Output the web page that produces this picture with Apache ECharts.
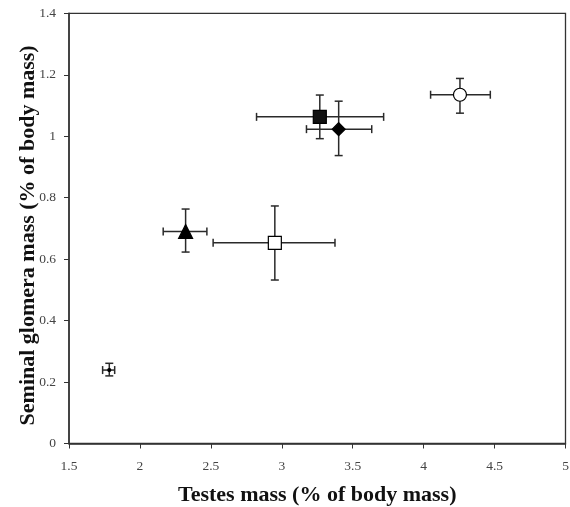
<!DOCTYPE html>
<html>
<head>
<meta charset="utf-8">
<script src="https://cdn.jsdelivr.net/npm/echarts@6/dist/echarts.min.js"></script>
<style>
  html, body { margin: 0; padding: 0; background: #fff; }
</style>
</head>
<body>
<div id="main" style="width:570px;height:507px;"></div>
<script>
// point order: small dot, triangle, open square, filled square, diamond, open circle
var symbols = ['circle', 'triangle', 'rect', 'rect', 'diamond', 'circle'];
var fills = ['#000', '#000', '#fff', '#111', '#000', '#fff'];
var sizes = [3, 14, 13, 13, 13, 13];
var testes = [1.784, 2.322, 2.951, 3.268, 3.401, 4.256];
var glomera = [0.239, 0.690, 0.653, 1.063, 1.023, 1.135];
var testesLo = [1.737, 2.164, 2.516, 2.822, 3.174, 4.049];
var testesHi = [1.822, 2.472, 3.375, 3.718, 3.634, 4.470];
var glomeraLo = [0.220, 0.623, 0.532, 0.992, 0.937, 1.075];
var glomeraHi = [0.261, 0.763, 0.773, 1.134, 1.114, 1.188];

var myChart = echarts.init(document.getElementById('main'));

var errData = testes.map(function (x, i) {
  return [x, glomera[i], testesLo[i], testesHi[i], glomeraLo[i], glomeraHi[i]];
});

var lineStyle = { stroke: '#2a2a2a', lineWidth: 1.5 };
var cap = 4;

function renderErr(params, api) {
  var c = api.coord([api.value(0), api.value(1)]);
  var l = api.coord([api.value(2), api.value(1)]);
  var r = api.coord([api.value(3), api.value(1)]);
  var b = api.coord([api.value(0), api.value(4)]);
  var t = api.coord([api.value(0), api.value(5)]);
  var seg = function (x1, y1, x2, y2) {
    return { type: 'line', shape: { x1: x1, y1: y1, x2: x2, y2: y2 }, style: lineStyle };
  };
  return {
    type: 'group',
    children: [
      seg(l[0], c[1], r[0], c[1]),
      seg(l[0], c[1] - cap, l[0], c[1] + cap),
      seg(r[0], c[1] - cap, r[0], c[1] + cap),
      seg(c[0], b[1], c[0], t[1]),
      seg(c[0] - cap, b[1], c[0] + cap, b[1]),
      seg(c[0] - cap, t[1], c[0] + cap, t[1])
    ]
  };
}

var pointSeries = testes.map(function (x, i) {
  return {
    type: 'scatter',
    z: 5,
    symbol: symbols[i],
    symbolSize: sizes[i],
    data: [[x, glomera[i]]],
    itemStyle: { color: fills[i], borderColor: '#000', borderWidth: 1.2, opacity: 1 },
    emphasis: { disabled: true }
  };
});

var option = {
  animation: false,
  grid: {
    left: 69, right: 4.5, top: 13.3, bottom: 63.5,
    outerBoundsMode: 'none',
    show: true, borderColor: '#333', borderWidth: 1.3
  },
  xAxis: {
    type: 'value',
    min: 1.5, max: 5, interval: 0.5,
    name: 'Testes mass (% of body mass)',
    nameLocation: 'middle',
    nameGap: 41,
    nameMoveOverlap: false,
    nameTextStyle: { fontFamily: 'Liberation Serif', fontWeight: 'bold', fontSize: 22, color: '#111' },
    axisLine: { lineStyle: { color: '#333', width: 1.5 } },
    axisTick: { inside: false, length: 5, lineStyle: { color: '#333' } },
    axisLabel: { fontFamily: 'Liberation Serif', fontSize: 13.5, color: '#444', margin: 16 },
    splitLine: { show: false }
  },
  yAxis: {
    type: 'value',
    min: 0, max: 1.4, interval: 0.2,
    name: 'Seminal glomera mass (% of body mass)',
    nameLocation: 'middle',
    nameGap: 30,
    nameMoveOverlap: false,
    nameTextStyle: { fontFamily: 'Liberation Serif', fontWeight: 'bold', fontSize: 22, color: '#111', padding: [0, 14, 0, 0] },
    axisLine: { lineStyle: { color: '#333', width: 1.5 } },
    axisTick: { inside: false, length: 5, lineStyle: { color: '#333' } },
    axisLabel: { fontFamily: 'Liberation Serif', fontSize: 13.5, color: '#444', margin: 13 },
    splitLine: { show: false }
  },
  series: [{
    type: 'custom',
    z: 2,
    renderItem: renderErr,
    data: errData,
    encode: { x: [0, 2, 3], y: [1, 4, 5] },
    silent: true
  }].concat(pointSeries)
};

myChart.setOption(option);
</script>
</body>
</html>
